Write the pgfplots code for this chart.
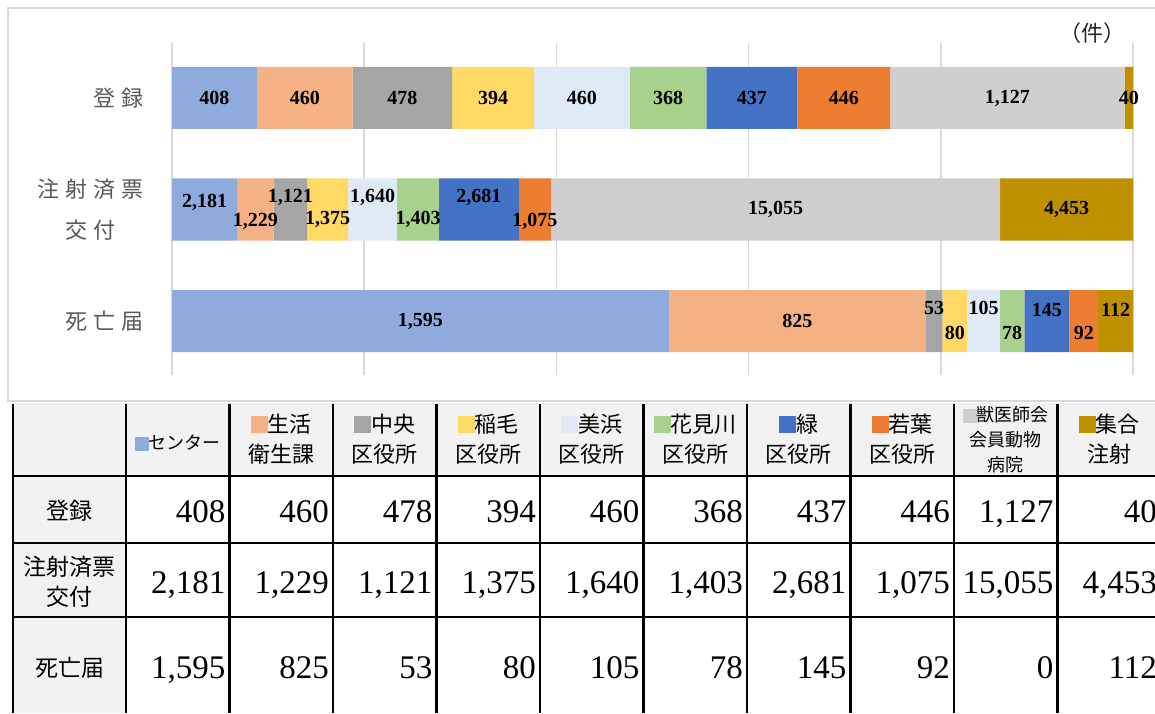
\documentclass[border=0pt]{standalone}
\usepackage{pgfplots}
\pgfplotsset{compat=1.18}
\usepackage{pgfplotstable}
\usepackage{fontspec}
\setmainfont{Liberation Serif}
\newfontfamily\jp{Noto Sans CJK JP}
\definecolor{s1}{HTML}{8FAADC}
\definecolor{s2}{HTML}{F4B183}
\definecolor{s3}{HTML}{A5A5A5}
\definecolor{s4}{HTML}{FFD966}
\definecolor{s5}{HTML}{DEEBF7}
\definecolor{s6}{HTML}{A9D18E}
\definecolor{s7}{HTML}{4472C4}
\definecolor{s8}{HTML}{ED7D31}
\definecolor{s9}{HTML}{D0CECE}
\definecolor{s10}{HTML}{BF9000}
\definecolor{gridc}{HTML}{D9D9D9}
\definecolor{labc}{HTML}{595959}
\definecolor{hdr}{HTML}{F2F2F2}

% y: 0 = 死亡届, 1 = 注射済票交付, 2 = 登録 ; t = row total ; d* = label offsets (pt)
\pgfplotstableread{
y c1 c2 c3 c4 c5 c6 c7 c8 c9 c10 t d1 d2 d3 d4 d5 d6 d7 d8 d9 d10
0 1595 825 53 80 105 78 145 92 0 112 3085 0 0 13 -12 13 -12 11 -12 0 11
1 2181 1229 1121 1375 1640 1403 2681 1075 15055 4453 32213 7 -12 12 -10 12 -10 12 -12 0 0
2 408 460 478 394 460 368 437 446 1127 40 4618 0 0 0 0 0 0 0 0 0 0
}\counts

\newcommand\series[2]{%
\addplot[fill=#2, draw=none,
  point meta=\thisrow{c#1},
  visualization depends on={\thisrow{d#1} \as \vd},
  every node near coord/.append style={anchor=center, yshift={\vd}},
] table[x expr=\thisrow{c#1}/\thisrow{t}*100, y=y] {\counts};
}
\newcommand\sq[1]{{\color{#1}\rule[-0.05em]{0.78em}{0.78em}}}
\newcommand\gp{\hspace{6pt}}

\begin{document}
\begin{tikzpicture}[x=1pt, y=1pt]
\useasboundingbox (0,0) rectangle (1155,713);
\begin{scope}
\clip (0,0) rectangle (1155,713);
\fill[white] (0,0) rectangle (1155,713);
% chart area border
\draw[gridc, line width=1.5pt] (8,705) rectangle (1175,312);

\begin{axis}[
  at={(172pt,338pt)}, anchor=south west,
  scale only axis, width=961pt, height=332pt,
  xbar stacked, bar width=62pt,
  xmin=0, xmax=100, ymin=-0.484, ymax=2.493,
  clip=false,
  axis line style={draw=none},
  tick style={draw=none},
  xtick={0,20,...,100}, xticklabels={},
  xmajorgrids, grid style={draw=gridc, line width=1.5pt},
  ytick={0,1,2},
  yticklabels={{死\gp 亡\gp 届},{注\gp 射\gp 済\gp 票\\交\gp 付},{登\gp 録}},
  yticklabel style={font=\jp\fontsize{22}{41}\selectfont, text=labc, align=center, xshift=-25pt},
  nodes near coords={\pgfmathfloatifflags{\pgfplotspointmeta}{0}{}{\pgfmathprintnumber{\pgfplotspointmeta}}},
  every node near coord/.append style={font=\fontsize{20}{20}\selectfont\bfseries, text=black, inner sep=0pt},
  /pgf/number format/fixed,
  /pgf/number format/precision=0,
  /pgf/number format/1000 sep={,},
  /pgf/number format/assume math mode=true,
]
\series{1}{s1}
\series{2}{s2}
\series{3}{s3}
\series{4}{s4}
\series{5}{s5}
\series{6}{s6}
\series{7}{s7}
\series{8}{s8}
\series{9}{s9}
\series{10}{s10}
\end{axis}

\node[font=\jp\fontsize{22}{22}\selectfont, text=black!85] at (1092,680) {（件）};

% data table
\fill[hdr] (13,310) rectangle (1170,237);
\fill[hdr] (13,237) rectangle (126,0);
\foreach \yy in {237,170,96} \draw[line width=2.5pt] (12,\yy) -- (1170,\yy);
\foreach \k in {0,...,10} \draw[line width=2.5pt] ({126+103.5*\k},309) -- ({126+103.5*\k},0);
\draw[line width=2.5pt] (13,309) -- (13,0);

% header
\node[font=\jp\fontsize{18}{22}\selectfont] at (177.75,270) {\sq{s1}センター};
\begin{scope}[every node/.style={font=\jp\fontsize{22}{30}\selectfont, align=center}]
\node at (281.25,274) {\sq{s2}生活\\衛生課};
\node at (384.75,274) {\sq{s3}中央\\区役所};
\node at (488.25,274) {\sq{s4}稲毛\\区役所};
\node at (591.75,274) {\sq{s5}美浜\\区役所};
\node at (695.25,274) {\sq{s6}花見川\\区役所};
\node at (798.75,274) {\sq{s7}緑\\区役所};
\node at (902.25,274) {\sq{s8}若葉\\区役所};
\node at (1109.25,274) {\sq{s10}集合\\注射};
\end{scope}
\node[font=\jp\fontsize{18}{25}\selectfont, align=center] at (1005.75,273) {\sq{s9}獣医師会\\会員動物\\病院};

% row labels
\begin{scope}[every node/.style={font=\jp\fontsize{23}{30}\selectfont, align=center}]
\node at (69.5,202) {登録};
\node at (69.5,131) {注射済票\\交付};
\node at (69.5,45) {死亡届};
\end{scope}

% numbers
\begin{scope}[every node/.style={font=\fontsize{33}{33}\selectfont, anchor=base east, inner sep=0pt}]
\foreach \v [count=\i from 0] in {408,460,478,394,460,368,437,446,{1,127},40}
  \node at ({229.5+103.5*\i-4},191) {\v};
\foreach \v [count=\i from 0] in {{2,181},{1,229},{1,121},{1,375},{1,640},{1,403},{2,681},{1,075},{15,055},{4,453}}
  \node at ({229.5+103.5*\i-4},120) {\v};
\foreach \v [count=\i from 0] in {{1,595},825,53,80,105,78,145,92,0,112}
  \node at ({229.5+103.5*\i-4},35) {\v};
\end{scope}
\end{scope}
\end{tikzpicture}
\end{document}
